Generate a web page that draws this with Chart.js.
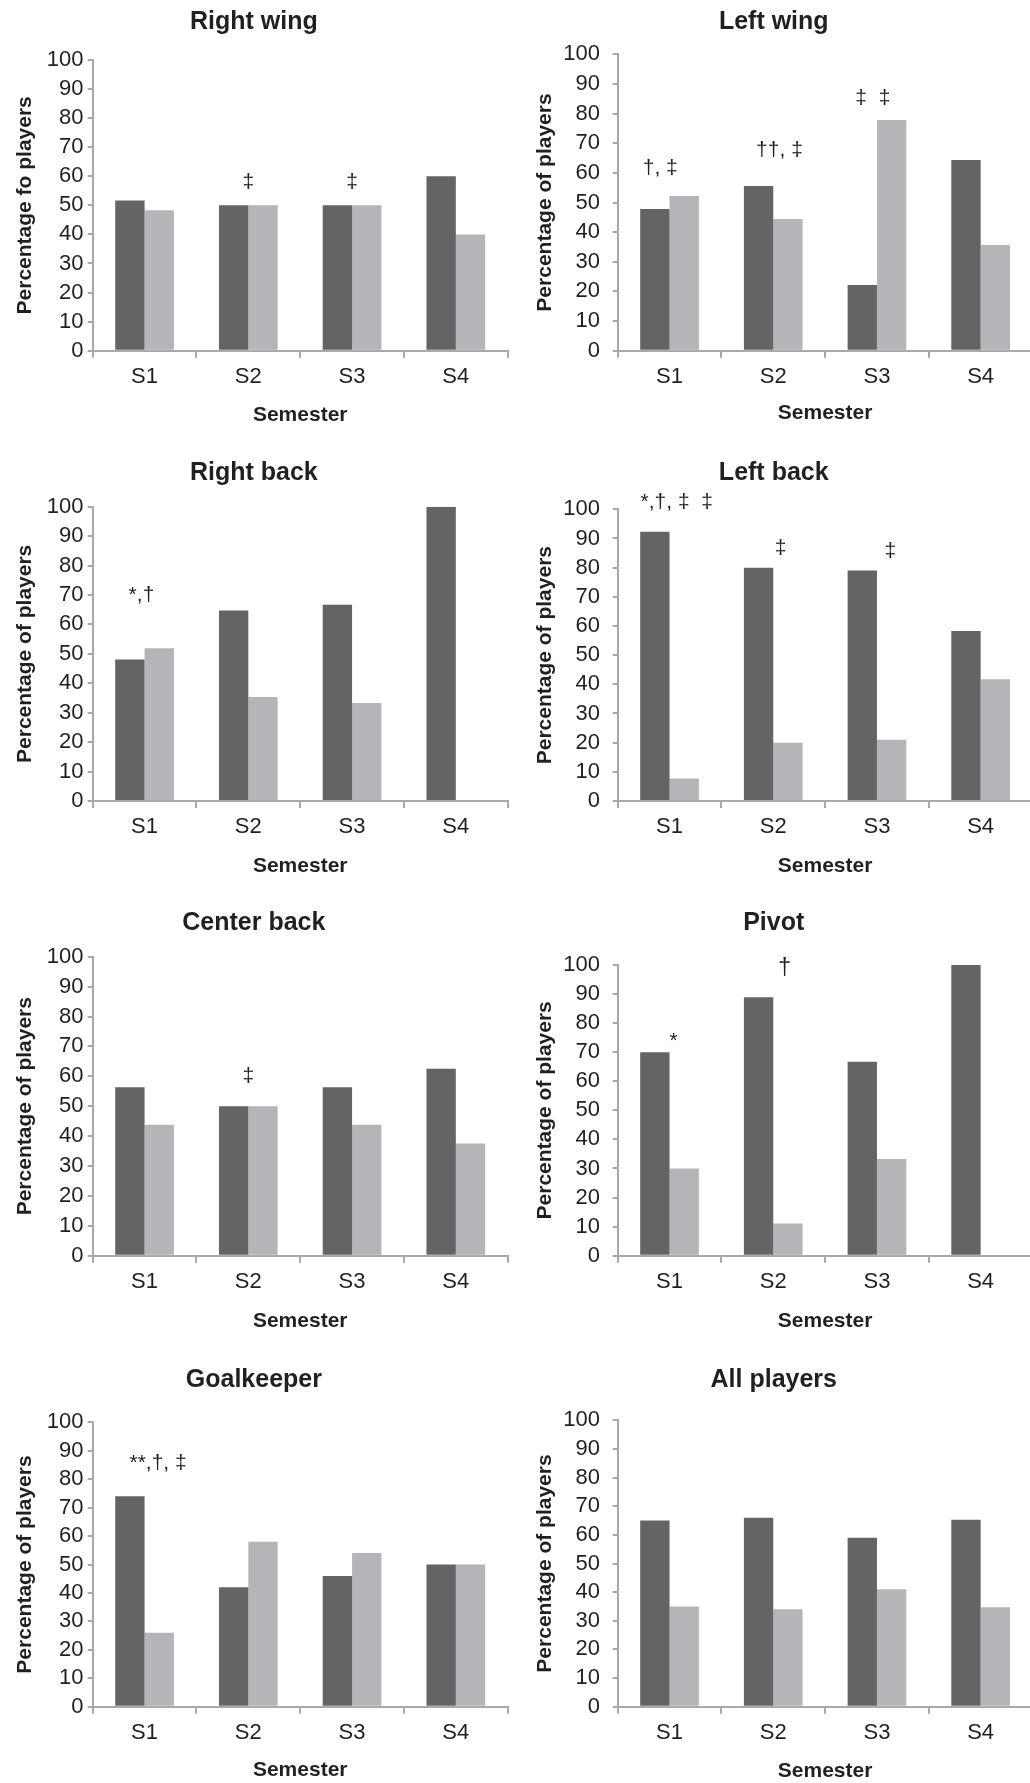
<!DOCTYPE html>
<html>
<head>
<meta charset="utf-8">
<script src="https://cdn.jsdelivr.net/npm/chart.js@4.4.1/dist/chart.umd.min.js"></script>
<style>
html, body { margin: 0; padding: 0; background: #ffffff; width: 1030px; height: 1783px; overflow: hidden; }
canvas { position: absolute; }
</style>
</head>
<body>
<script>
// ---------------- DATA ----------------
const semesters = ['S1', 'S2', 'S3', 'S4'];

const rightWingDark  = [51.7, 50, 50, 60];
const rightWingLight = [48.3, 50, 50, 40];
const rightWingNotes = ['', '‡', '‡', ''];
const rightWingNoteAt = [null, 58, 58, null];

const leftWingDark  = [47.8, 55.6, 22.2, 64.3];
const leftWingLight = [52.2, 44.4, 77.8, 35.7];
const leftWingNotes = ['†, ‡', '††, ‡', '‡  ‡', ''];
const leftWingNoteAt = [61.5, 67.7, 85.2, null];

const rightBackDark  = [48.1, 64.7, 66.7, 100];
const rightBackLight = [51.9, 35.3, 33.3, 0];
const rightBackNotes = ['*,†', '', '', ''];
const rightBackNoteAt = [70, null, null, null];

const leftBackDark  = [92.3, 80, 79, 58.3];
const leftBackLight = [7.7, 20, 21, 41.7];
const leftBackNotes = ['*,†, ‡  ‡', '‡', '‡', ''];
const leftBackNoteAt = [102.6, 86.6, 85.5, null];

const centerBackDark  = [56.3, 50, 56.3, 62.5];
const centerBackLight = [43.8, 50, 43.8, 37.5];
const centerBackNotes = ['', '‡', '', ''];
const centerBackNoteAt = [null, 59.9, null, null];

const pivotDark  = [70, 88.9, 66.7, 100];
const pivotLight = [30, 11.1, 33.3, 0];
const pivotNotes = ['*', '†', '', ''];
const pivotNoteAt = [73.8, 98.9, null, null];

const goalkeeperDark  = [74, 42, 46, 50];
const goalkeeperLight = [26, 58, 54, 50];
const goalkeeperNotes = ['**,†, ‡', '', '', ''];
const goalkeeperNoteAt = [85.6, null, null, null];

const allPlayersDark  = [65, 66, 59, 65.3];
const allPlayersLight = [35, 34, 41, 34.7];
const allPlayersNotes = ['', '', '', ''];
const allPlayersNoteAt = [null, null, null, null];

const panelTitles = ['Right wing', 'Left wing', 'Right back', 'Left back', 'Center back', 'Pivot', 'Goalkeeper', 'All players'];
const yTitles = ['Percentage fo players', 'Percentage of players', 'Percentage of players', 'Percentage of players',
                 'Percentage of players', 'Percentage of players', 'Percentage of players', 'Percentage of players'];
const xTitle = 'Semester';

// ---------------- LAYOUT / STYLE ----------------
const FONT = '"Liberation Sans", Arial, Helvetica, sans-serif';
const TXT = '#231f20';
const AXIS = '#a9a9a9';
const DARK = '#636466';
const LIGHT = '#b4b5b8';

const cols = [
  { left: 0,   width: 523, axisX: 92.7,  right: 507.7,  yTitleX: 25, yTickPad: 4.3 },
  { left: 515, width: 544, axisX: 617.7, right: 1032.5, yTitleX: 30, yTickPad: 12.7 }
];
const geo = [
  { col: 0, top: 0,    h: 440, y100: 60,     y0: 350.7,  titleY: 21.7,   tickY: 376.7,  xTitleY: 415 },
  { col: 1, top: 0,    h: 440, y100: 54.3,   y0: 350.7,  titleY: 21.7,   tickY: 376.7,  xTitleY: 413.3 },
  { col: 0, top: 440,  h: 450, y100: 506.7,  y0: 801,    titleY: 473.3,  tickY: 826.7,  xTitleY: 866.7 },
  { col: 1, top: 440,  h: 450, y100: 509.3,  y0: 801,    titleY: 473.3,  tickY: 826.7,  xTitleY: 866.7 },
  { col: 0, top: 890,  h: 450, y100: 956.7,  y0: 1255.7, titleY: 923.3,  tickY: 1281.7, xTitleY: 1321.7 },
  { col: 1, top: 890,  h: 450, y100: 965,    y0: 1255.7, titleY: 923.3,  tickY: 1281.7, xTitleY: 1321.7 },
  { col: 0, top: 1340, h: 443, y100: 1422.3, y0: 1706.7, titleY: 1380,   tickY: 1733.3, xTitleY: 1770 },
  { col: 1, top: 1340, h: 443, y100: 1420.3, y0: 1706.7, titleY: 1380,   tickY: 1733.3, xTitleY: 1771.7 }
];
// horizontal offsets of the note labels within each category (category units) and font sizes
const noteShift = [
  [0, 0, 0, 0],
  [-0.09, 0.06, -0.04, 0],
  [-0.03, 0, 0, 0],
  [0.07, 0.07, 0.13, 0],
  [0, 0, 0, 0],
  [0.04, 0.11, 0, 0],
  [0.13, 0, 0, 0],
  [0, 0, 0, 0]
];
const noteSize = [
  [21, 21, 21, 21], [21, 21, 21, 21], [21, 21, 21, 21], [21, 21, 21, 21],
  [21, 21, 21, 21], [21, 23, 21, 21], [21, 21, 21, 21], [21, 21, 21, 21]
];

const darkSeries  = [rightWingDark, leftWingDark, rightBackDark, leftBackDark, centerBackDark, pivotDark, goalkeeperDark, allPlayersDark];
const lightSeries = [rightWingLight, leftWingLight, rightBackLight, leftBackLight, centerBackLight, pivotLight, goalkeeperLight, allPlayersLight];
const noteTexts   = [rightWingNotes, leftWingNotes, rightBackNotes, leftBackNotes, centerBackNotes, pivotNotes, goalkeeperNotes, allPlayersNotes];
const noteValues  = [rightWingNoteAt, leftWingNoteAt, rightBackNoteAt, leftBackNoteAt, centerBackNoteAt, pivotNoteAt, goalkeeperNoteAt, allPlayersNoteAt];

const notePlugin = {
  id: 'notes',
  afterDatasetsDraw(chart, args, opts) {
    const { ctx } = chart;
    const xs = chart.scales.x, ys = chart.scales.y;
    ctx.save();
    ctx.fillStyle = TXT;
    ctx.textAlign = 'center';
    ctx.textBaseline = 'middle';
    (opts.items || []).forEach(n => {
      if (!n.text || n.value === null) return;
      ctx.font = n.size + 'px ' + FONT;
      ctx.fillText(n.text, xs.getPixelForValue(n.cat + n.dx), ys.getPixelForValue(n.value));
    });
    ctx.restore();
  }
};

panelTitles.forEach((title, i) => {
  const g = geo[i];
  const c = cols[g.col];
  const cv = document.createElement('canvas');
  cv.width = c.width; cv.height = g.h;
  cv.style.left = c.left + 'px'; cv.style.top = g.top + 'px';
  cv.style.width = c.width + 'px'; cv.style.height = g.h + 'px';
  document.body.appendChild(cv);

  const items = semesters.map((s, k) => ({
    cat: k, dx: noteShift[i][k], size: noteSize[i][k],
    text: noteTexts[i][k], value: noteValues[i][k]
  }));

  const tickFont = 22, titleFont = 25, axisTitleFont = 21;

  new Chart(cv.getContext('2d'), {
    type: 'bar',
    data: {
      labels: semesters,
      datasets: [
        { label: 'Series 1', data: darkSeries[i], backgroundColor: DARK, borderWidth: 0,
          categoryPercentage: 0.566, barPercentage: 1.0 },
        { label: 'Series 2', data: lightSeries[i], backgroundColor: LIGHT, borderWidth: 0,
          categoryPercentage: 0.566, barPercentage: 1.0 }
      ]
    },
    plugins: [notePlugin],
    options: {
      responsive: false,
      animation: false,
      devicePixelRatio: 1,
      layout: { padding: { left: 0, top: 0, bottom: 0, right: c.width - (c.right - c.left) } },
      plugins: {
        legend: { display: false },
        tooltip: { enabled: false },
        title: {
          display: true, text: title, color: TXT,
          font: { family: FONT, size: titleFont, weight: 'bold', lineHeight: 1.2 },
          padding: { top: g.titleY - g.top - titleFont * 0.6, bottom: g.y100 - g.titleY - titleFont * 0.6 }
        },
        notes: { items: items }
      },
      scales: {
        x: {
          offset: true,
          grid: { display: true, offset: true, drawOnChartArea: false, drawTicks: true, tickLength: 7,
                  color: AXIS, tickColor: AXIS, lineWidth: 2 },
          border: { display: true, color: AXIS, width: 2 },
          ticks: { color: TXT, font: { family: FONT, size: tickFont, lineHeight: 1.2 },
                   padding: g.tickY - g.y0 - 7 - tickFont * 0.6, maxRotation: 0, autoSkip: false },
          title: { display: true, text: xTitle, color: TXT,
                   font: { family: FONT, size: axisTitleFont, weight: 'bold', lineHeight: 1.2 },
                   padding: { top: 0, bottom: (g.top + g.h) - g.xTitleY - axisTitleFont * 0.6 } },
          afterFit: s => { s.height = g.top + g.h - g.y0; }
        },
        y: {
          min: 0, max: 100,
          ticks: { stepSize: 10, autoSkip: false, color: TXT,
                   font: { family: FONT, size: tickFont, lineHeight: 1.2 }, padding: c.yTickPad },
          grid: { display: true, drawOnChartArea: false, drawTicks: true, tickLength: 5,
                  color: AXIS, tickColor: AXIS, lineWidth: 2 },
          border: { display: true, color: AXIS, width: 2 },
          title: { display: true, text: yTitles[i], color: TXT,
                   font: { family: FONT, size: axisTitleFont, weight: 'bold', lineHeight: 1.2 },
                   padding: { top: c.yTitleX - axisTitleFont * 0.6, bottom: 0 } },
          afterFit: s => { s.width = c.axisX - c.left; }
        }
      }
    }
  });
});
</script>
</body>
</html>
